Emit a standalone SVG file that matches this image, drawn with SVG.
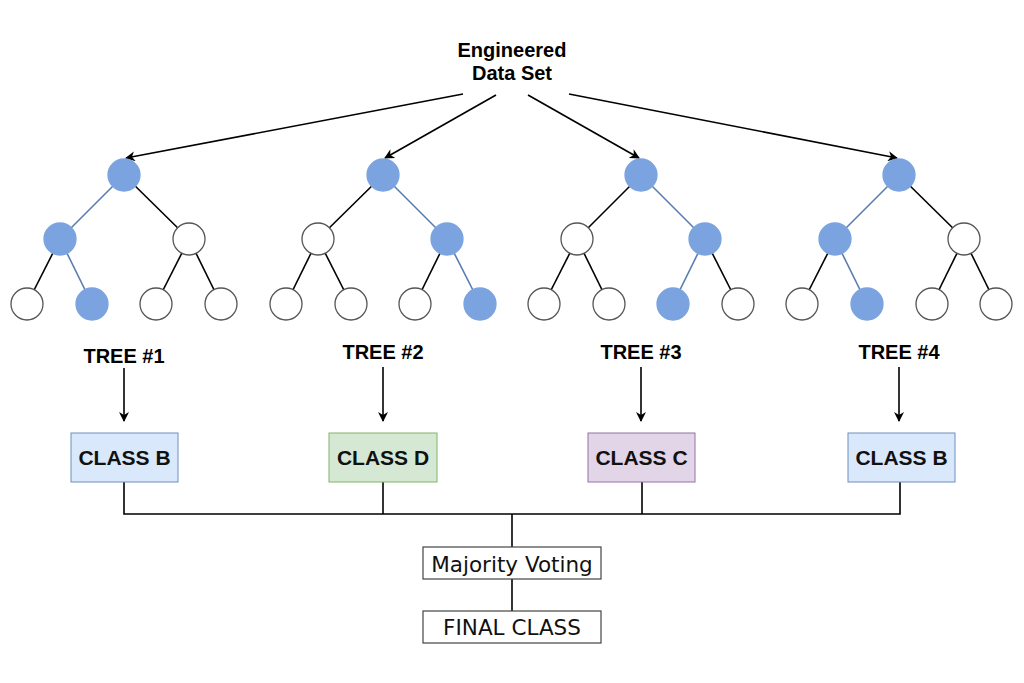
<svg xmlns="http://www.w3.org/2000/svg" width="1024" height="683" viewBox="0 0 1024 683">
<defs>
<marker id="ah" markerWidth="10" markerHeight="10" refX="9" refY="5" orient="auto" markerUnits="userSpaceOnUse">
<path d="M0,0 L10,5 L0,10 L3,5 Z" fill="#000"/>
</marker>
<style>
.e{stroke:#000;stroke-width:1.6;fill:none}
.eb{stroke:#5a7db0;stroke-width:1.6;fill:none}
.n{fill:#fff;stroke:#555;stroke-width:1.3}
.nb{fill:#7ba3e0;stroke:#7ba3e0;stroke-width:1.3}
.lbl{font-family:"Liberation Sans",Arial,sans-serif;font-weight:bold;font-size:20px;fill:#000;text-anchor:middle}
.cls{font-family:"Liberation Sans",Arial,sans-serif;font-weight:bold;font-size:21px;fill:#111;text-anchor:middle}
.plain{font-family:"DejaVu Sans",Verdana,sans-serif;font-size:21.5px;fill:#111;text-anchor:middle}
.ln{stroke:#000;stroke-width:1.6;fill:none}
</style>
</defs>
<rect width="1024" height="683" fill="#fff"/>

<g id="title">
<text class="lbl" x="512" y="57">Engineered</text>
<text class="lbl" x="512" y="80">Data Set</text>
</g>

<g id="connectors">
<line class="ln" x1="463" y1="94" x2="126" y2="158" marker-end="url(#ah)"/>
<line class="ln" x1="496" y1="95" x2="385" y2="158" marker-end="url(#ah)"/>
<line class="ln" x1="528" y1="95" x2="639" y2="158" marker-end="url(#ah)"/>
<line class="ln" x1="569" y1="94" x2="897" y2="158" marker-end="url(#ah)"/>
<line class="ln" x1="124" y1="368" x2="124" y2="421" marker-end="url(#ah)"/>
<line class="ln" x1="383" y1="367" x2="383" y2="421" marker-end="url(#ah)"/>
<line class="ln" x1="641" y1="367" x2="641" y2="421" marker-end="url(#ah)"/>
<line class="ln" x1="899" y1="367" x2="899" y2="421" marker-end="url(#ah)"/>
<polyline class="ln" points="124,482 124,514 900,514 900,482"/>
<line class="ln" x1="383" y1="482" x2="383" y2="514"/>
<line class="ln" x1="642" y1="482" x2="642" y2="514"/>
<line class="ln" x1="512" y1="514" x2="512" y2="547"/>
<line class="ln" x1="512" y1="579" x2="512" y2="611"/>
</g>

<g id="tree1">
<line class="eb" x1="124" y1="175" x2="60" y2="239"/>
<line class="e" x1="124" y1="175" x2="189" y2="239"/>
<line class="e" x1="60" y1="239" x2="27" y2="304"/>
<line class="eb" x1="60" y1="239" x2="92" y2="304"/>
<line class="e" x1="189" y1="239" x2="156" y2="304"/>
<line class="e" x1="189" y1="239" x2="221" y2="304"/>
<circle class="nb" cx="124" cy="175" r="16"/>
<circle class="nb" cx="60" cy="239" r="16"/>
<circle class="n" cx="189" cy="239" r="16"/>
<circle class="n" cx="27" cy="304" r="16"/>
<circle class="nb" cx="92" cy="304" r="16"/>
<circle class="n" cx="156" cy="304" r="16"/>
<circle class="n" cx="221" cy="304" r="16"/>
<text class="lbl" x="124" y="363">TREE #1</text>
</g>

<g id="tree2">
<line class="e" x1="383" y1="175" x2="318" y2="239"/>
<line class="eb" x1="383" y1="175" x2="447" y2="239"/>
<line class="e" x1="318" y1="239" x2="286" y2="304"/>
<line class="e" x1="318" y1="239" x2="351" y2="304"/>
<line class="e" x1="447" y1="239" x2="415" y2="304"/>
<line class="eb" x1="447" y1="239" x2="480" y2="304"/>
<circle class="nb" cx="383" cy="175" r="16"/>
<circle class="n" cx="318" cy="239" r="16"/>
<circle class="nb" cx="447" cy="239" r="16"/>
<circle class="n" cx="286" cy="304" r="16"/>
<circle class="n" cx="351" cy="304" r="16"/>
<circle class="n" cx="415" cy="304" r="16"/>
<circle class="nb" cx="480" cy="304" r="16"/>
<text class="lbl" x="383" y="359">TREE #2</text>
</g>

<g id="tree3">
<line class="e" x1="641" y1="175" x2="577" y2="239"/>
<line class="eb" x1="641" y1="175" x2="705" y2="239"/>
<line class="e" x1="577" y1="239" x2="544" y2="304"/>
<line class="e" x1="577" y1="239" x2="609" y2="304"/>
<line class="eb" x1="705" y1="239" x2="673" y2="304"/>
<line class="e" x1="705" y1="239" x2="738" y2="304"/>
<circle class="nb" cx="641" cy="175" r="16"/>
<circle class="n" cx="577" cy="239" r="16"/>
<circle class="nb" cx="705" cy="239" r="16"/>
<circle class="n" cx="544" cy="304" r="16"/>
<circle class="n" cx="609" cy="304" r="16"/>
<circle class="nb" cx="673" cy="304" r="16"/>
<circle class="n" cx="738" cy="304" r="16"/>
<text class="lbl" x="641" y="359">TREE #3</text>
</g>

<g id="tree4">
<line class="eb" x1="899" y1="175" x2="835" y2="239"/>
<line class="e" x1="899" y1="175" x2="964" y2="239"/>
<line class="e" x1="835" y1="239" x2="802" y2="304"/>
<line class="eb" x1="835" y1="239" x2="867" y2="304"/>
<line class="e" x1="964" y1="239" x2="932" y2="304"/>
<line class="e" x1="964" y1="239" x2="996" y2="304"/>
<circle class="nb" cx="899" cy="175" r="16"/>
<circle class="nb" cx="835" cy="239" r="16"/>
<circle class="n" cx="964" cy="239" r="16"/>
<circle class="n" cx="802" cy="304" r="16"/>
<circle class="nb" cx="867" cy="304" r="16"/>
<circle class="n" cx="932" cy="304" r="16"/>
<circle class="n" cx="996" cy="304" r="16"/>
<text class="lbl" x="899" y="359">TREE #4</text>
</g>

<g id="class1">
<rect x="71" y="433" width="107" height="49" fill="#dae8fc" stroke="#6c8ebf" stroke-width="1"/>
<text class="cls" x="124.5" y="465">CLASS B</text>
</g>
<g id="class2">
<rect x="329" y="433" width="108" height="49" fill="#d5e8d4" stroke="#82b366" stroke-width="1"/>
<text class="cls" x="383" y="465">CLASS D</text>
</g>
<g id="class3">
<rect x="588" y="433" width="107" height="49" fill="#e1d5e7" stroke="#9673a6" stroke-width="1"/>
<text class="cls" x="641.5" y="465">CLASS C</text>
</g>
<g id="class4">
<rect x="848" y="433" width="107" height="49" fill="#dae8fc" stroke="#6c8ebf" stroke-width="1"/>
<text class="cls" x="901.5" y="465">CLASS B</text>
</g>

<g id="voting">
<rect x="423" y="547" width="178" height="32" fill="#fff" stroke="#444" stroke-width="1.2"/>
<text class="plain" x="512" y="572">Majority Voting</text>
</g>
<g id="final">
<rect x="423" y="611" width="178" height="32" fill="#fff" stroke="#444" stroke-width="1.2"/>
<text class="plain" x="512" y="635">FINAL CLASS</text>
</g>
</svg>
